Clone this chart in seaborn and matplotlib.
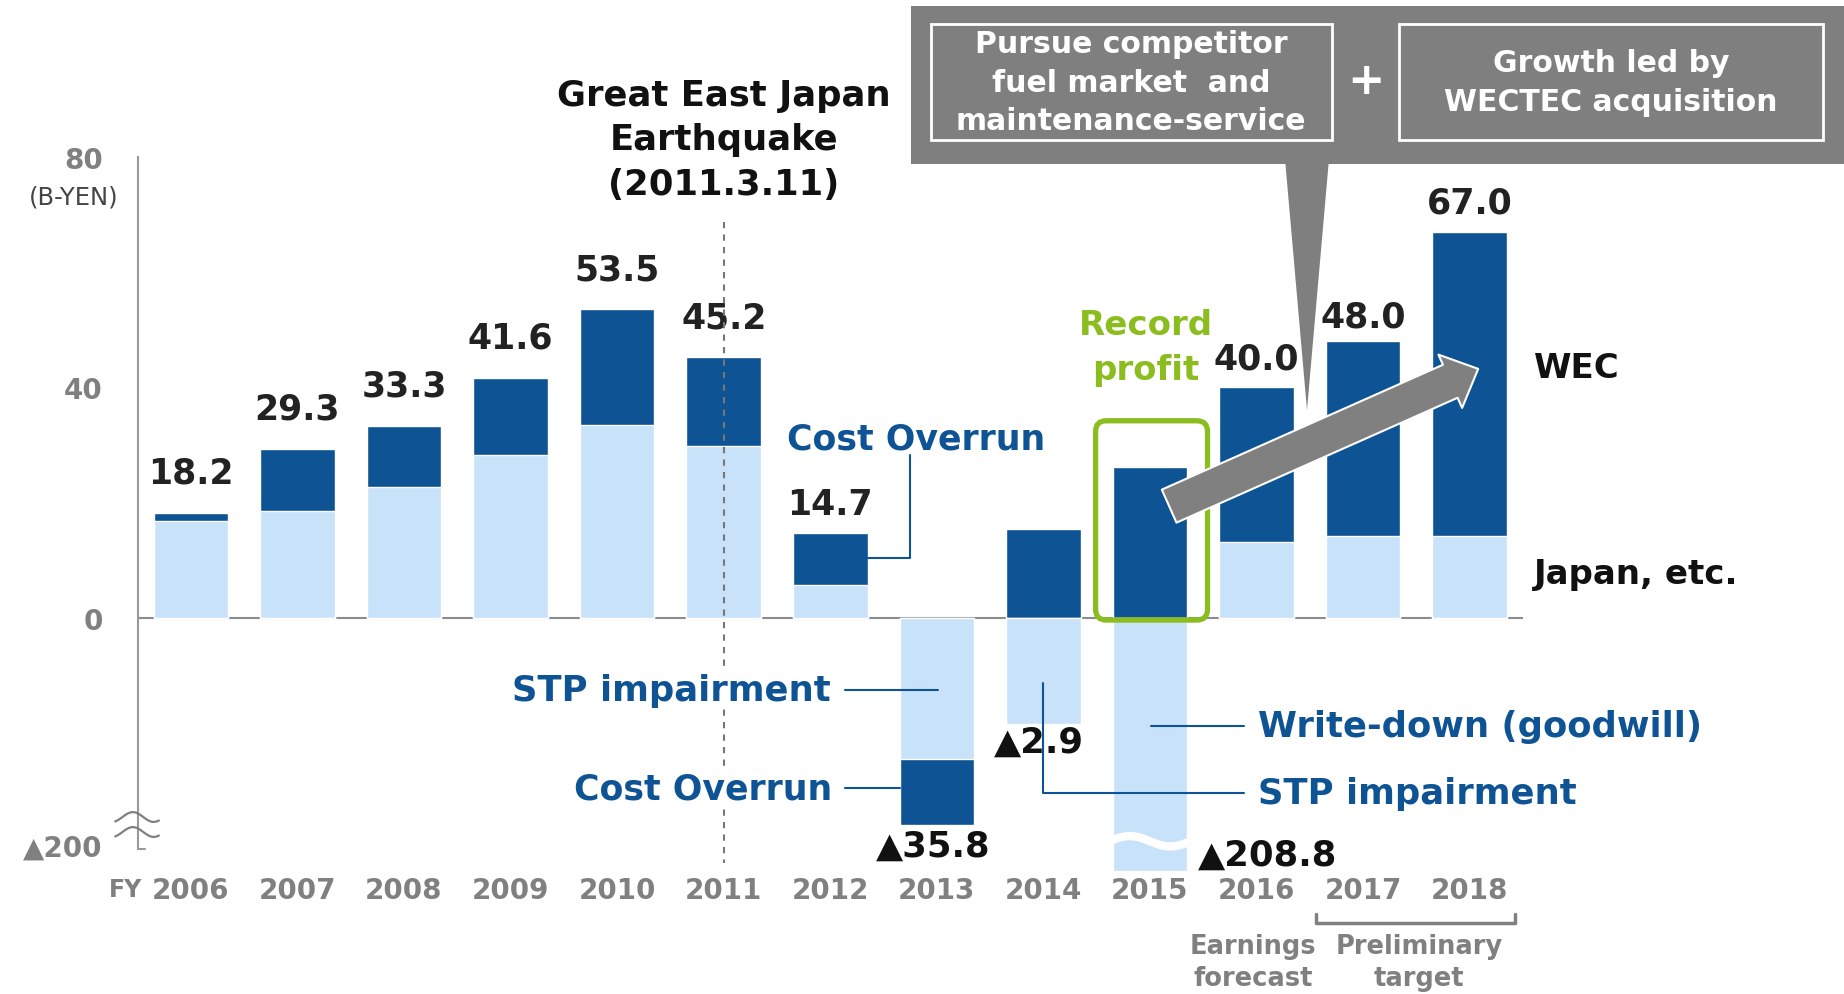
import numpy as np
import pandas as pd
import matplotlib.pyplot as plt
import seaborn as sns
from matplotlib.patches import FancyBboxPatch, FancyArrowPatch, Rectangle, Polygon

# -----------------------------------------------------------
# Data (B-YEN)
# -----------------------------------------------------------
years = ['2006', '2007', '2008', '2009', '2010', '2011', '2012',
         '2013', '2014', '2015', '2016', '2017', '2018']
# dark bars (WEC / cost overrun) - full extent of the bar
dark_part = [18.2, 29.3, 33.3, 41.6, 53.5, 45.2, 14.7,
             -35.8, 15.4, 26.1, 40.0, 48.0, 67.0]
# light bars (Japan, etc. / impairments) - drawn over the dark ones
light_part = [16.8, 18.6, 22.8, 28.2, 33.4, 29.8, 5.8,
              -24.4, -18.3, -43.9, 13.1, 14.3, 14.3]   # 2015 cut by axis break
top_labels = ['18.2', '29.3', '33.3', '41.6', '53.5', '45.2', '14.7',
              None, None, None, '40.0', '48.0', '67.0']
loss_years = ['2013', '2014', '2015']
loss_labels = ['▲35.8', '▲2.9', '▲208.8']

DARK = '#0E5394'
LIGHT = '#C8E2FA'
GRAY = '#808080'
GREEN = '#8CBD1E'

df = pd.DataFrame({'year': years, 'dark': dark_part, 'light': light_part})

sns.set_style('white')
plt.rcParams['font.family'] = ['DejaVu Sans']

fig = plt.figure(figsize=(18.44, 9.95), dpi=100)
ax = fig.add_axes([0.0746, 0.1228, 0.7513, 0.7188])

ax.axhline(0, color='#8c8c8c', lw=1.5, zorder=0.5)
sns.barplot(data=df, x='year', y='dark', color=DARK, saturation=1, width=0.7,
            edgecolor='white', linewidth=1, ax=ax, zorder=2)
sns.barplot(data=df, x='year', y='light', color=LIGHT, saturation=1, width=0.7,
            edgecolor='white', linewidth=1, ax=ax, zorder=3)

ax.set_xlim(-0.5, 12.5)
ax.set_ylim(-44, 80)
ax.set_xlabel('')
ax.set_ylabel('')
for s in ['top', 'right', 'bottom']:
    ax.spines[s].set_visible(False)
ax.spines['left'].set_color('#999999')
ax.spines['left'].set_linewidth(1.5)
ax.spines['left'].set_bounds(-40, 80)

ax.set_yticks([80, 40, 0, -39.2])
ax.set_yticklabels(['80', '40', '0', '▲200'])
ax.tick_params(axis='y', direction='in', length=8, width=1.5, color='#999999',
               pad=25, labelsize=20, labelcolor=GRAY)
ax.tick_params(axis='x', length=0, pad=3, labelsize=20, labelcolor=GRAY)
for lab in ax.get_xticklabels() + ax.get_yticklabels():
    lab.set_fontweight('bold')
# bottom end of the y axis
ax.plot([-0.5, -0.43], [-40, -40], color='#999999', lw=1.5, clip_on=False, zorder=4)

# value labels above the bars
offsets = [29, 29, 29, 29, 29, 29, 21, 0, 0, 0, 21, 18, 21]
for i, lab in enumerate(top_labels):
    if lab is None:
        continue
    ax.annotate(lab, (i, dark_part[i]), xytext=(0, offsets[i]),
                textcoords='offset points', ha='center', va='center',
                fontsize=25, fontweight='bold', color='#222222')

# loss labels
loss_pos = [(6.97, -39.5), (7.96, -21.5), (10.1, -41.1)]
for (x, y), lab in zip(loss_pos, loss_labels):
    ax.text(x, y, lab, ha='center', va='center', fontsize=25.5,
            fontweight='bold', color='#111111', zorder=6)

# axis break on the y axis
t = np.linspace(-0.35 * np.pi, 1.75 * np.pi, 60)
xs = np.linspace(-0.71, -0.30, 60)
for yc in [-34.5, -37.1]:
    ax.plot(xs, yc + 0.85 * np.sin(t), color=GRAY, lw=1.6, clip_on=False, zorder=4)

# wave break on the 2015 bar
xw = np.linspace(8.62, 9.38, 80)
ax.plot(xw, -38.7 + 0.9 * np.sin(np.linspace(0, 2 * np.pi, 80)), color='white',
        lw=6, zorder=4, clip_on=False)

# earthquake marker
ax.plot([5.0, 5.0], [68.7, -42.5], color='#777777', lw=1.5, ls=(0, (3, 3)),
        clip_on=False, zorder=4)
ax.text(5.0, 83.0, 'Great East Japan\nEarthquake\n(2011.3.11)', ha='center',
        va='center', fontsize=25.5, fontweight='bold', linespacing=1.4, color='#111111')

# blue annotations with leader lines
bbox = dict(facecolor='white', edgecolor='none', pad=1)
ax.text(5.59, 31.2, 'Cost Overrun', ha='left', va='center', fontsize=25,
        fontweight='bold', color=DARK)
ax.plot([6.75, 6.75, 6.35], [28.3, 10.4, 10.4], color=DARK, lw=1.5, zorder=4)

ax.text(6.0, -12.4, 'STP impairment', ha='right', va='center', fontsize=25.5,
        fontweight='bold', color=DARK, bbox=bbox, zorder=5)
ax.plot([6.14, 7.01], [-12.4, -12.4], color=DARK, lw=1.5, zorder=4)

ax.text(6.02, -29.5, 'Cost Overrun', ha='right', va='center', fontsize=25,
        fontweight='bold', color=DARK, bbox=bbox, zorder=5)
ax.plot([6.14, 6.65], [-29.5, -29.5], color=DARK, lw=1.5, zorder=4)

ax.text(10.01, -18.8, 'Write-down (goodwill)', ha='left', va='center', fontsize=25.5,
        fontweight='bold', color=DARK)
ax.plot([9.01, 9.88], [-18.8, -18.8], color=DARK, lw=1.5, zorder=4)

ax.text(10.01, -30.3, 'STP impairment', ha='left', va='center', fontsize=25.5,
        fontweight='bold', color=DARK)
ax.plot([8.0, 8.0, 9.88], [-11.3, -30.3, -30.3], color=DARK, lw=1.5, zorder=4)

# segment labels
ax.text(12.6, 43.5, 'WEC', ha='left', va='center', fontsize=24.5,
        fontweight='bold', color='#111111')
ax.text(12.6, 7.8, 'Japan, etc.', ha='left', va='center', fontsize=24.5,
        fontweight='bold', color='#111111')

# record profit highlight
ax.text(8.96, 47.0, 'Record\nprofit', ha='center', va='center', fontsize=24.5,
        fontweight='bold', color=GREEN, linespacing=1.45)
box = FancyBboxPatch((8.49, -0.35), 1.05, 34.55,
                     boxstyle='round,pad=0,rounding_size=0.1',
                     mutation_aspect=18.47, fill=False, edgecolor=GREEN,
                     lw=3.8, zorder=5, clip_on=False)
ax.add_patch(box)

# growth arrow
arrow = FancyArrowPatch((9.18, 19.4), (12.08, 43.2),
                        arrowstyle='simple,head_length=1.1,head_width=2.1,tail_width=1.3',
                        mutation_scale=20, facecolor=GRAY, edgecolor='white',
                        lw=1.5, shrinkA=0, shrinkB=0, zorder=6, clip_on=False)
ax.add_patch(arrow)

# -----------------------------------------------------------
# Figure-level overlay in pixel coordinates
# -----------------------------------------------------------
ov = fig.add_axes([0, 0, 1, 1], zorder=10)
ov.set_xlim(0, 1844)
ov.set_ylim(995, 0)
ov.axis('off')
ov.patch.set_alpha(0)

ov.text(74, 198, '(B-YEN)', ha='center', va='center', fontsize=17.5, color='#444444')
ov.text(126, 890, 'FY', ha='center', va='center', fontsize=17,
        fontweight='bold', color=GRAY)

# callout
ov.add_patch(Rectangle((911, 7), 940, 158, facecolor='#7F7F7F', edgecolor='none'))
ov.add_patch(Polygon([(1285, 160), (1329, 160), (1307, 411)], closed=True,
                     facecolor='#7F7F7F', edgecolor='none'))
ov.add_patch(Rectangle((931, 25), 401, 116, fill=False, edgecolor='white', lw=2))
ov.add_patch(Rectangle((1399, 25), 424, 116, fill=False, edgecolor='white', lw=2))
ov.text(1131, 83, 'Pursue competitor\nfuel market  and\nmaintenance-service',
        ha='center', va='center', fontsize=21.5, fontweight='bold', color='white',
        linespacing=1.43)
ov.text(1611, 83, 'Growth led by\nWECTEC acquisition', ha='center', va='center',
        fontsize=21.5, fontweight='bold', color='white', linespacing=1.43)
ov.text(1366, 82, '+', ha='center', va='center', fontsize=32,
        fontweight='bold', color='white')

# bottom captions
ov.plot([1316, 1316, 1515, 1515], [915, 924, 924, 915], color=GRAY, lw=2.5)
ov.text(1253, 963, 'Earnings\nforecast', ha='center', va='center', fontsize=18.5,
        fontweight='bold', color=GRAY, linespacing=1.3)
ov.text(1419, 963, 'Preliminary\ntarget', ha='center', va='center', fontsize=18.5,
        fontweight='bold', color=GRAY, linespacing=1.3)

fig.savefig('out.png', dpi=100)
